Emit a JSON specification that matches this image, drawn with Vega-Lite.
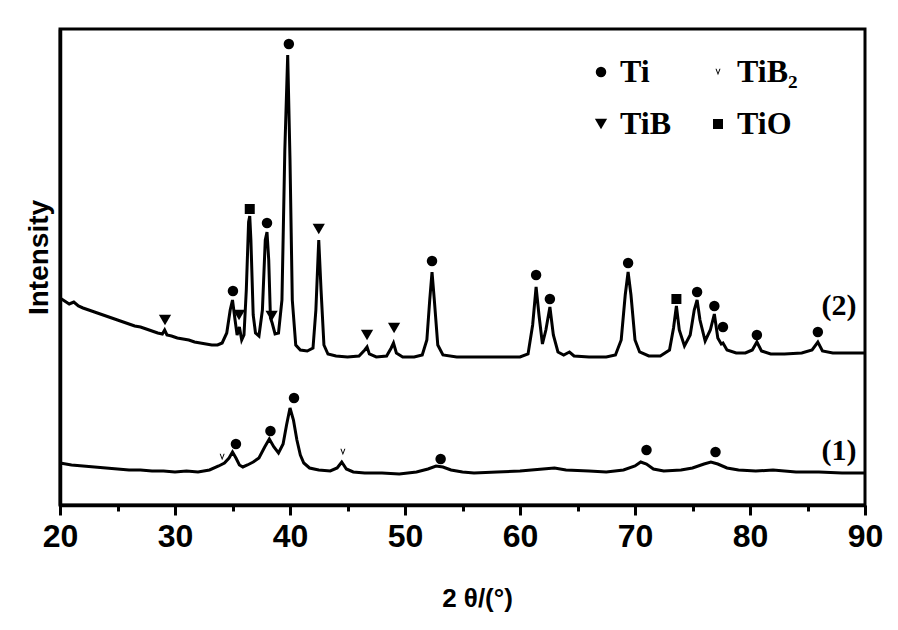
{
  "$schema": "https://vega.github.io/schema/vega-lite/v6.json",
  "autosize": "none",
  "padding": {"left": 60, "top": 29, "right": 33, "bottom": 125},
  "width": 805,
  "height": 476,
  "background": "white",
  "config": {
    "view": {"stroke": "black", "strokeWidth": 3},
    "axis": {"domainColor": "black", "domainWidth": 3.5, "tickColor": "black", "grid": false}
  },
  "datasets": {
    "curves": [
      {"s":"2","x":20.0,"y":207},{"s":"2","x":20.4,"y":204},{"s":"2","x":20.8,"y":201},{"s":"2","x":21.2,"y":203},{"s":"2","x":21.6,"y":199},{"s":"2","x":22.0,"y":197},{"s":"2","x":22.5,"y":195},{"s":"2","x":23.0,"y":193},{"s":"2","x":23.5,"y":191},{"s":"2","x":24.0,"y":189},{"s":"2","x":24.5,"y":187},{"s":"2","x":25.0,"y":185},{"s":"2","x":25.5,"y":183},{"s":"2","x":26.0,"y":181},{"s":"2","x":26.5,"y":179},{"s":"2","x":27.0,"y":178},{"s":"2","x":27.5,"y":176},{"s":"2","x":28.0,"y":174},{"s":"2","x":28.5,"y":172},{"s":"2","x":28.9,"y":171},{"s":"2","x":29.1,"y":175},{"s":"2","x":29.3,"y":170},{"s":"2","x":29.7,"y":169},{"s":"2","x":30.2,"y":167},{"s":"2","x":30.7,"y":166},{"s":"2","x":31.2,"y":165},{"s":"2","x":31.7,"y":163},{"s":"2","x":32.2,"y":162},{"s":"2","x":32.7,"y":161},{"s":"2","x":33.2,"y":160},{"s":"2","x":33.7,"y":160},{"s":"2","x":34.1,"y":162},{"s":"2","x":34.5,"y":172},{"s":"2","x":34.8,"y":195},{"s":"2","x":35.0,"y":205},{"s":"2","x":35.2,"y":187},{"s":"2","x":35.4,"y":170},{"s":"2","x":35.6,"y":178},{"s":"2","x":35.8,"y":165},{"s":"2","x":36.0,"y":170},{"s":"2","x":36.2,"y":215},{"s":"2","x":36.4,"y":283},{"s":"2","x":36.5,"y":289},{"s":"2","x":36.6,"y":265},{"s":"2","x":36.8,"y":190},{"s":"2","x":37.0,"y":172},{"s":"2","x":37.3,"y":169},{"s":"2","x":37.6,"y":195},{"s":"2","x":37.85,"y":265},{"s":"2","x":38.0,"y":273},{"s":"2","x":38.15,"y":245},{"s":"2","x":38.3,"y":187},{"s":"2","x":38.45,"y":182},{"s":"2","x":38.7,"y":171},{"s":"2","x":39.0,"y":172},{"s":"2","x":39.3,"y":205},{"s":"2","x":39.55,"y":355},{"s":"2","x":39.8,"y":450},{"s":"2","x":40.0,"y":345},{"s":"2","x":40.2,"y":205},{"s":"2","x":40.5,"y":160},{"s":"2","x":40.9,"y":155},{"s":"2","x":41.5,"y":154},{"s":"2","x":42.0,"y":157},{"s":"2","x":42.25,"y":195},{"s":"2","x":42.5,"y":265},{"s":"2","x":42.7,"y":215},{"s":"2","x":42.95,"y":160},{"s":"2","x":43.3,"y":151},{"s":"2","x":44.0,"y":149},{"s":"2","x":45.0,"y":148},{"s":"2","x":46.0,"y":149},{"s":"2","x":46.5,"y":155},{"s":"2","x":46.7,"y":158},{"s":"2","x":46.9,"y":151},{"s":"2","x":47.5,"y":148},{"s":"2","x":48.4,"y":149},{"s":"2","x":48.8,"y":157},{"s":"2","x":49.0,"y":162},{"s":"2","x":49.25,"y":152},{"s":"2","x":49.8,"y":148},{"s":"2","x":50.8,"y":148},{"s":"2","x":51.5,"y":150},{"s":"2","x":51.9,"y":165},{"s":"2","x":52.15,"y":205},{"s":"2","x":52.35,"y":233},{"s":"2","x":52.55,"y":205},{"s":"2","x":52.85,"y":160},{"s":"2","x":53.3,"y":150},{"s":"2","x":54.5,"y":148},{"s":"2","x":56,"y":148},{"s":"2","x":58,"y":148},{"s":"2","x":60,"y":148},{"s":"2","x":60.7,"y":151},{"s":"2","x":61.1,"y":180},{"s":"2","x":61.4,"y":218},{"s":"2","x":61.65,"y":190},{"s":"2","x":61.95,"y":161},{"s":"2","x":62.25,"y":175},{"s":"2","x":62.6,"y":198},{"s":"2","x":62.9,"y":170},{"s":"2","x":63.3,"y":153},{"s":"2","x":63.8,"y":150},{"s":"2","x":64.3,"y":153},{"s":"2","x":64.7,"y":149},{"s":"2","x":66,"y":148},{"s":"2","x":67.5,"y":148},{"s":"2","x":68.3,"y":150},{"s":"2","x":68.8,"y":165},{"s":"2","x":69.15,"y":210},{"s":"2","x":69.4,"y":233},{"s":"2","x":69.65,"y":210},{"s":"2","x":70.0,"y":165},{"s":"2","x":70.4,"y":153},{"s":"2","x":71.2,"y":149},{"s":"2","x":72.2,"y":149},{"s":"2","x":73.0,"y":155},{"s":"2","x":73.35,"y":177},{"s":"2","x":73.6,"y":199},{"s":"2","x":73.85,"y":175},{"s":"2","x":74.3,"y":159},{"s":"2","x":74.8,"y":170},{"s":"2","x":75.15,"y":195},{"s":"2","x":75.4,"y":205},{"s":"2","x":75.65,"y":185},{"s":"2","x":76.1,"y":164},{"s":"2","x":76.55,"y":175},{"s":"2","x":76.9,"y":191},{"s":"2","x":77.2,"y":167},{"s":"2","x":77.5,"y":161},{"s":"2","x":77.65,"y":162},{"s":"2","x":78.0,"y":155},{"s":"2","x":78.8,"y":152},{"s":"2","x":79.6,"y":152},{"s":"2","x":80.2,"y":155},{"s":"2","x":80.6,"y":163},{"s":"2","x":81.0,"y":154},{"s":"2","x":81.8,"y":151},{"s":"2","x":83.0,"y":151},{"s":"2","x":84.5,"y":152},{"s":"2","x":85.4,"y":155},{"s":"2","x":85.9,"y":163},{"s":"2","x":86.3,"y":154},{"s":"2","x":87.2,"y":152},{"s":"2","x":88.5,"y":152},{"s":"2","x":90,"y":152},
      {"s":"1","x":20,"y":42},{"s":"1","x":21,"y":40},{"s":"1","x":22,"y":39},{"s":"1","x":23,"y":38},{"s":"1","x":24,"y":37},{"s":"1","x":25,"y":36},{"s":"1","x":26,"y":35},{"s":"1","x":27,"y":35},{"s":"1","x":28,"y":34},{"s":"1","x":29,"y":34},{"s":"1","x":30,"y":33},{"s":"1","x":31,"y":34},{"s":"1","x":32,"y":33},{"s":"1","x":33,"y":35},{"s":"1","x":33.8,"y":39},{"s":"1","x":34.3,"y":42},{"s":"1","x":34.7,"y":47},{"s":"1","x":35.0,"y":53},{"s":"1","x":35.3,"y":47},{"s":"1","x":35.6,"y":40},{"s":"1","x":35.9,"y":38},{"s":"1","x":36.3,"y":40},{"s":"1","x":36.8,"y":43},{"s":"1","x":37.3,"y":47},{"s":"1","x":37.8,"y":58},{"s":"1","x":38.2,"y":66},{"s":"1","x":38.6,"y":58},{"s":"1","x":39.0,"y":52},{"s":"1","x":39.4,"y":61},{"s":"1","x":39.7,"y":80},{"s":"1","x":40.0,"y":97},{"s":"1","x":40.3,"y":85},{"s":"1","x":40.6,"y":65},{"s":"1","x":40.9,"y":50},{"s":"1","x":41.2,"y":42},{"s":"1","x":41.7,"y":37},{"s":"1","x":42.5,"y":35},{"s":"1","x":43.5,"y":34},{"s":"1","x":44.1,"y":37},{"s":"1","x":44.5,"y":43},{"s":"1","x":44.9,"y":36},{"s":"1","x":45.5,"y":33},{"s":"1","x":46.5,"y":32},{"s":"1","x":48,"y":32},{"s":"1","x":49.5,"y":31},{"s":"1","x":51,"y":33},{"s":"1","x":52,"y":36},{"s":"1","x":52.7,"y":39},{"s":"1","x":53.3,"y":38},{"s":"1","x":54,"y":35},{"s":"1","x":55,"y":33},{"s":"1","x":56,"y":32},{"s":"1","x":58,"y":33},{"s":"1","x":60,"y":34},{"s":"1","x":62,"y":36},{"s":"1","x":63,"y":37},{"s":"1","x":64,"y":35},{"s":"1","x":66,"y":34},{"s":"1","x":67.5,"y":33},{"s":"1","x":69,"y":35},{"s":"1","x":70,"y":39},{"s":"1","x":70.5,"y":43},{"s":"1","x":71,"y":41},{"s":"1","x":71.6,"y":36},{"s":"1","x":72.5,"y":34},{"s":"1","x":74,"y":35},{"s":"1","x":75,"y":37},{"s":"1","x":76,"y":41},{"s":"1","x":76.6,"y":43},{"s":"1","x":77.2,"y":41},{"s":"1","x":78,"y":37},{"s":"1","x":79,"y":35},{"s":"1","x":80.5,"y":34},{"s":"1","x":82,"y":35},{"s":"1","x":84,"y":33},{"s":"1","x":86,"y":33},{"s":"1","x":88,"y":32},{"s":"1","x":90,"y":32}
    ],
    "markers": [
      {"phase":"TiB₂","x":34.1,"y":48},{"phase":"Ti","x":35.3,"y":61},{"phase":"Ti","x":38.3,"y":74},{"phase":"Ti","x":40.35,"y":107},{"phase":"TiB₂","x":44.6,"y":53},{"phase":"Ti","x":53.1,"y":46},{"phase":"Ti","x":71.0,"y":55},{"phase":"Ti","x":77.0,"y":53},
      {"phase":"TiB","x":29.13,"y":185},{"phase":"Ti","x":35.04,"y":214},{"phase":"TiB","x":35.57,"y":190},{"phase":"TiO","x":36.5,"y":296},{"phase":"Ti","x":38.0,"y":282},{"phase":"TiB","x":38.4,"y":189},{"phase":"Ti","x":39.9,"y":461},{"phase":"TiB","x":42.5,"y":276},{"phase":"TiB","x":46.7,"y":170},{"phase":"TiB","x":49.05,"y":177},{"phase":"Ti","x":52.35,"y":244},{"phase":"Ti","x":61.4,"y":230},{"phase":"Ti","x":62.6,"y":206},{"phase":"Ti","x":69.4,"y":242},{"phase":"TiO","x":73.6,"y":206},{"phase":"Ti","x":75.4,"y":213},{"phase":"Ti","x":76.9,"y":199},{"phase":"Ti","x":77.65,"y":178},{"phase":"Ti","x":80.6,"y":170},{"phase":"Ti","x":85.9,"y":173}
    ],
    "labels": [
      {"text":"(2)","x":87.74,"y":199},
      {"text":"(1)","x":87.74,"y":54}
    ]
  },
  "layer": [
    {
      "data": {"name": "curves"},
      "mark": {"type": "line", "color": "black", "strokeWidth": 3, "interpolate": "linear"},
      "encoding": {
        "x": {
          "field": "x", "type": "quantitative",
          "scale": {"domain": [20, 90], "nice": false, "zero": false},
          "axis": {
            "values": [20,25,30,35,40,45,50,55,60,65,70,75,80,85,90],
            "labelExpr": "datum.value % 10 === 0 ? datum.label : ''",
            "tickSize": {"condition": {"test": "datum.value % 10 === 0", "value": 10}, "value": 6},
            "tickWidth": 3,
            "labelFont": "Liberation Sans", "labelFontWeight": "bold", "labelFontSize": 32,
            "labelColor": "black", "labelPadding": 6, "labelFlush": false,
            "title": "2 θ/(°)",
            "titleFont": "Liberation Sans", "titleFontWeight": "bold", "titleFontSize": 26,
            "titleColor": "black", "titleX": 417, "titleY": 80, "titleBaseline": "top"
          }
        },
        "y": {
          "field": "y", "type": "quantitative",
          "scale": {"domain": [0, 476], "nice": false, "zero": false},
          "axis": {
            "ticks": false, "labels": false,
            "title": "Intensity",
            "titleFont": "Liberation Sans", "titleFontWeight": "bold", "titleFontSize": 28,
            "titleColor": "black", "titleX": -13, "titleY": 228, "titleBaseline": "alphabetic", "titleAngle": -90
          }
        },
        "detail": {"field": "s", "type": "nominal"}
      }
    },
    {
      "data": {"name": "markers"},
      "mark": {"type": "point", "filled": true, "color": "black", "opacity": 1},
      "encoding": {
        "x": {"field": "x", "type": "quantitative"},
        "y": {"field": "y", "type": "quantitative"},
        "size": {
          "field": "phase", "type": "nominal",
          "scale": {"type": "ordinal", "domain": ["Ti", "TiB₂", "TiB", "TiO"], "range": [110, 70, 150, 100]}
        },
        "shape": {
          "field": "phase", "type": "nominal",
          "scale": {
            "domain": ["Ti", "TiB₂", "TiB", "TiO"],
            "range": ["circle", "M-0.6,-0.8L0,0.8L0.6,-0.8L0.35,-0.8L0,0.2L-0.35,-0.8Z", "triangle-down", "square"]
          },
          "legend": {
            "title": null,
            "orient": "none",
            "legendX": 525,
            "legendY": 27,
            "direction": "horizontal",
            "columns": 2,
            "columnPadding": 31,
            "rowPadding": 20,
            "padding": 0,
            "symbolFillColor": "black",
            "symbolStrokeColor": "black",
            "symbolStrokeWidth": 0,
            "labelOffset": 3,
            "labelFont": "Liberation Serif",
            "labelFontWeight": "bold",
            "labelFontSize": 32,
            "labelColor": "black",
            "labelLimit": 200
          }
        }
      }
    },
    {
      "data": {"name": "labels"},
      "mark": {"type": "text", "font": "Liberation Serif", "fontWeight": "bold", "fontSize": 30, "color": "black", "baseline": "middle", "align": "center"},
      "encoding": {
        "x": {"field": "x", "type": "quantitative"},
        "y": {"field": "y", "type": "quantitative"},
        "text": {"field": "text", "type": "nominal"}
      }
    }
  ]
}
